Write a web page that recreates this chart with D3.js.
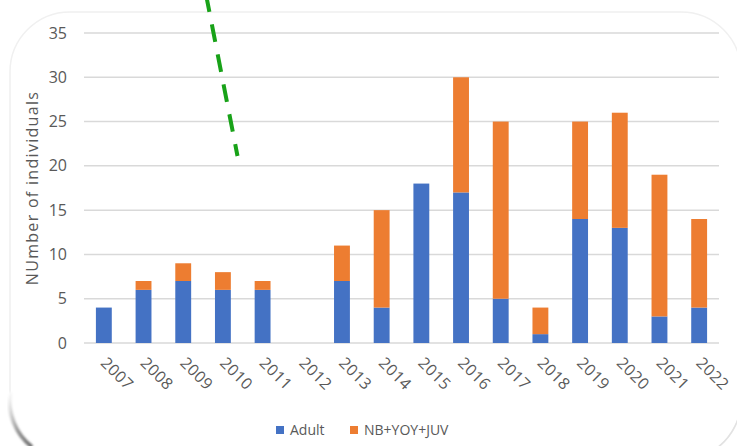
<!DOCTYPE html>
<html>
<head>
<meta charset="utf-8">
<script src="https://cdn.jsdelivr.net/npm/d3@7"></script>
<style>
  html, body { margin: 0; padding: 0; background: #ffffff; }
  svg { display: block; }
  text { font-family: "Open Sans", "DejaVu Sans", sans-serif; fill: #595959; }
</style>
</head>
<body>
<svg id="chart" width="737" height="446"></svg>
<script>
// Yearly counts of individuals, split by life stage
const years = ["2007","2008","2009","2010","2011","2012","2013","2014","2015",
               "2016","2017","2018","2019","2020","2021","2022"];
const adult = [4, 6, 7, 6, 6, 0, 7, 4, 18, 17, 5, 1, 14, 13, 3, 4];
const nbYoyJuv = [0, 1, 2, 2, 1, 0, 4, 11, 0, 13, 20, 3, 11, 13, 16, 10];
const seriesNames = ["Adult", "NB+YOY+JUV"];
const seriesColors = ["#4472C4", "#ED7D31"];
const yTicks = [0, 5, 10, 15, 20, 25, 30, 35];

const W = 737, H = 446;
const margin = { left: 84, right: 18, top: 33, bottom: 103 };
const svg = d3.select("#chart");

// Rounded card behind the chart
const defs = svg.append("defs");
const grad = defs.append("linearGradient")
  .attr("id", "edgeShade").attr("x1", "0").attr("y1", "0").attr("x2", "1").attr("y2", "1");
grad.append("stop").attr("offset", "0%").attr("stop-color", "#ffffff");
grad.append("stop").attr("offset", "55%").attr("stop-color", "#999999");
grad.append("stop").attr("offset", "100%").attr("stop-color", "#707070");
defs.append("filter").attr("id", "soft")
  .append("feGaussianBlur").attr("stdDeviation", 0.8);

svg.append("rect")
  .attr("x", 10).attr("y", 12).attr("width", 731).attr("height", 448)
  .attr("rx", 60).attr("ry", 60)
  .attr("fill", "#ffffff").attr("stroke", "#f0f0f0").attr("stroke-width", 1.5);

// darker shaded edge along the lower-left corner
svg.append("path")
  .attr("d", "M 10 392 A 60 60 0 0 0 32 447")
  .attr("fill", "none").attr("stroke", "url(#edgeShade)")
  .attr("stroke-width", 4).attr("filter", "url(#soft)");
svg.append("path")
  .attr("d", "M 741 398 A 60 60 0 0 1 717 448")
  .attr("fill", "none").attr("stroke", "#e2e2e2")
  .attr("stroke-width", 1.5);

const x = d3.scaleBand()
  .domain(years)
  .range([margin.left, W - margin.right])
  .paddingInner(0.6)
  .paddingOuter(0.3);

const y = d3.scaleLinear()
  .domain([0, 35])
  .range([H - margin.bottom, margin.top]);

// Horizontal gridlines
svg.append("g")
  .selectAll("line")
  .data(yTicks)
  .join("line")
  .attr("x1", margin.left).attr("x2", W - margin.right)
  .attr("y1", d => y(d)).attr("y2", d => y(d))
  .attr("stroke", "#d9d9d9").attr("stroke-width", 1.5);

// Y axis labels
const yAxis = d3.axisLeft(y).tickValues(yTicks).tickSize(0).tickPadding(17);
svg.append("g")
  .attr("transform", `translate(${margin.left},0)`)
  .call(yAxis)
  .call(g => g.select(".domain").remove())
  .call(g => g.selectAll("text")
    .attr("font-size", 16)
    .style("font-family", '"Open Sans", sans-serif')
    .attr("fill", "#595959"));

// Stacked bars
const rows = years.map((yr, i) => ({ year: yr, Adult: adult[i], "NB+YOY+JUV": nbYoyJuv[i] }));
const stacked = d3.stack().keys(seriesNames)(rows);

svg.append("g")
  .selectAll("g")
  .data(stacked)
  .join("g")
  .attr("fill", (d, i) => seriesColors[i])
  .selectAll("rect")
  .data(d => d)
  .join("rect")
  .attr("x", d => x(d.data.year))
  .attr("width", x.bandwidth())
  .attr("y", d => y(d[1]))
  .attr("height", d => y(d[0]) - y(d[1]));

// X axis labels, rotated
const xAxis = d3.axisBottom(x).tickSize(0).tickPadding(0);
svg.append("g")
  .attr("transform", `translate(0,${H - margin.bottom})`)
  .call(xAxis)
  .call(g => g.select(".domain").remove())
  .call(g => g.selectAll("text")
    .attr("font-size", 16)
    .style("font-family", '"Open Sans", sans-serif')
    .attr("letter-spacing", 0.4)
    .attr("fill", "#595959")
    .attr("text-anchor", "start")
    .attr("dy", null).attr("y", 0)
    .attr("transform", "translate(-4,21) rotate(45)"));

// Y axis title
svg.append("text")
  .attr("transform", `translate(38,188) rotate(-90)`)
  .attr("text-anchor", "middle")
  .attr("font-size", 16)
  .attr("letter-spacing", 1.3)
  .text("NUmber of individuals");

// Legend
const legend = svg.append("g").attr("transform", "translate(276,430)");
const legendOffsets = [0, 74];
seriesNames.forEach((name, i) => {
  const g = legend.append("g").attr("transform", `translate(${legendOffsets[i]},0)`);
  g.append("rect").attr("x", 0).attr("y", -4).attr("width", 8).attr("height", 8)
    .attr("fill", seriesColors[i]);
  g.append("text").attr("x", 14).attr("y", 5).attr("font-size", 14).text(name);
});

// Green dashed trend stroke across the upper left
svg.append("line")
  .attr("x1", 206).attr("y1", -5.5)
  .attr("x2", 237.5).attr("y2", 156)
  .attr("stroke", "#18a218").attr("stroke-width", 4)
  .attr("stroke-dasharray", "17.8 12.7");
</script>
</body>
</html>
